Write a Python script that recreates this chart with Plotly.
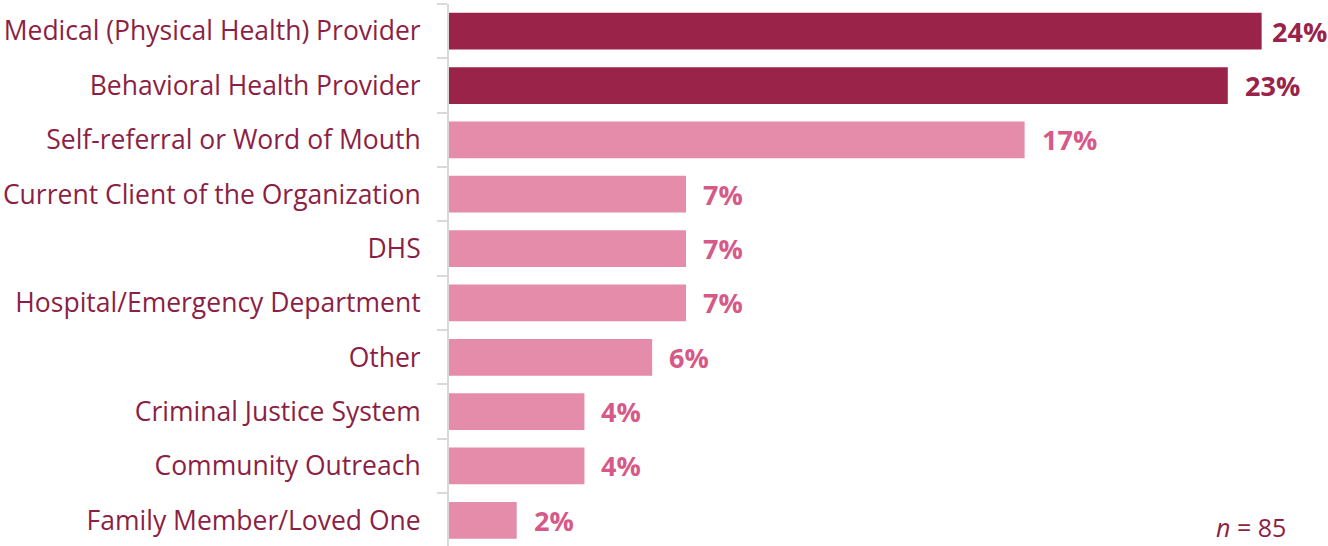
import plotly.graph_objects as go

# Referral sources, top to bottom
categories = [
    "Medical (Physical Health) Provider",
    "Behavioral Health Provider",
    "Self-referral or Word of Mouth",
    "Current Client of the Organization",
    "DHS",
    "Hospital/Emergency Department",
    "Other",
    "Criminal Justice System",
    "Community Outreach",
    "Family Member/Loved One",
]
percents = [24, 23, 17, 7, 7, 7, 6, 4, 4, 2]
highlighted = [True, True, False, False, False, False, False, False, False, False]
sample_size = 85

DARK = "#9A2449"
LIGHT = "#E48CAA"
LIGHT_TEXT = "#D65A88"
LABEL = "#8C1F45"
AXIS_GREY = "#D9D9D9"
FONT = "Open Sans"

W, H = 1328, 546
LEFT, TOP = 449, 4
PX_PER_PCT = 33.86
ROW_PX = 54.35
VALUE_FONT = 27
VALUE_GAP = 15
VALUE_TEXT_W = 56  # approx. width of a "NN%" label, keeps it inside the page

ypos = list(range(len(categories)))
bar_colors = [DARK if h else LIGHT for h in highlighted]
text_colors = [DARK if h else LIGHT_TEXT for h in highlighted]

fig = go.Figure()
fig.add_trace(go.Bar(
    x=percents,
    y=ypos,
    orientation="h",
    width=0.677,
    marker=dict(color=bar_colors, line=dict(width=0)),
    hoverinfo="skip",
))

# Value labels to the right of each bar, nudged left if they would run off the page
annotations = []
for yv, v, c in zip(ypos, percents, text_colors):
    end_px = LEFT + v * PX_PER_PCT
    shift = min(VALUE_GAP, W - 2 - VALUE_TEXT_W - end_px)
    annotations.append(dict(
        x=v, y=yv, xref="x", yref="y",
        text=f"<b>{v}%</b>", showarrow=False,
        xanchor="left", yanchor="middle", xshift=shift,
        font=dict(family=FONT, size=VALUE_FONT, color=c),
    ))

annotations.append(dict(
    x=1, y=0, xref="paper", yref="paper",
    text=f"<i>n</i> = {sample_size}", showarrow=False,
    xanchor="right", yanchor="bottom", xshift=-40, yshift=0,
    font=dict(family=FONT, size=25, color=LABEL),
))

plot_w = W - LEFT
plot_h = H - TOP
fig.update_layout(
    width=W, height=H,
    margin=dict(l=LEFT, r=0, t=TOP, b=0, pad=0),
    paper_bgcolor="white", plot_bgcolor="white",
    showlegend=False,
    bargap=0.32,
    annotations=annotations,
    font=dict(family=FONT, color=LABEL),
    xaxis=dict(
        range=[0, plot_w / PX_PER_PCT],
        visible=False, showgrid=False, zeroline=False, fixedrange=True,
    ),
    yaxis=dict(
        range=[-0.5 + plot_h / ROW_PX, -0.5],
        tickmode="array", tickvals=ypos, ticktext=categories,
        ticks="", ticklabelstandoff=21,
        tickfont=dict(family=FONT, size=26.5, color=LABEL),
        showline=True, linecolor=AXIS_GREY, linewidth=2,
        showgrid=False, zeroline=False, fixedrange=True,
        minor=dict(
            tickmode="array",
            tickvals=[v - 0.5 for v in ypos],
            ticks="outside", ticklen=10, tickwidth=2, tickcolor=AXIS_GREY,
            showgrid=False,
        ),
    ),
)

fig.write_html("out.html")
